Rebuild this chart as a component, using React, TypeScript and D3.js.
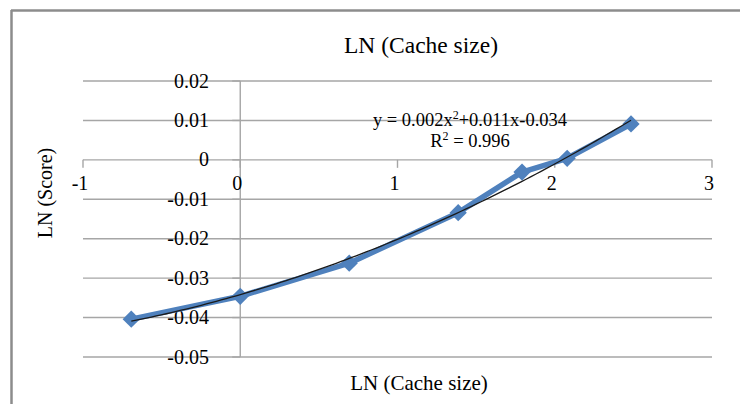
import React from "react";
import * as d3 from "d3";

const xValues = [-0.693, 0, 0.693, 1.386, 1.792, 2.079, 2.485];
const yValues = [-0.0404, -0.0346, -0.0262, -0.0134, -0.0031, 0.0004, 0.0091];
const xTicks = [-1, 0, 1, 2, 3];
const yTicks = [0.02, 0.01, 0, -0.01, -0.02, -0.03, -0.04, -0.05];
const yTickLabels = ["0.02", "0.01", "0", "-0.01", "-0.02", "-0.03", "-0.04", "-0.05"];
const titleText = "LN (Cache size)";
const xTitle = "LN (Cache size)";
const yTitle = "LN (Score)";

function quadFit(xs: number[], ys: number[]) {
  const n = xs.length;
  const s = [0, 0, 0, 0, 0];
  const t = [0, 0, 0];
  for (let i = 0; i < n; i++) {
    const x = xs[i], y = ys[i];
    for (let k = 0; k < 5; k++) s[k] += Math.pow(x, k);
    for (let k = 0; k < 3; k++) t[k] += y * Math.pow(x, k);
  }
  const M = [
    [s[0], s[1], s[2], t[0]],
    [s[1], s[2], s[3], t[1]],
    [s[2], s[3], s[4], t[2]],
  ];
  for (let i = 0; i < 3; i++) {
    const p = M[i][i];
    for (let j = i; j < 4; j++) M[i][j] /= p;
    for (let r = 0; r < 3; r++) {
      if (r === i) continue;
      const f = M[r][i];
      for (let j = i; j < 4; j++) M[r][j] -= f * M[i][j];
    }
  }
  return { c: M[0][3], b: M[1][3], a: M[2][3] };
}

export default function App() {
  const W = 740, H = 404;
  const x = d3.scaleLinear().domain([-1, 3]).range([83, 712]);
  const y = d3.scaleLinear().domain([-0.05, 0.02]).range([357, 81]);
  const font = "'Liberation Serif', 'Times New Roman', serif";
  const grid = "#a6a6a6";
  const blue = "#4f81bd";

  const pts = xValues.map((v, i) => [v, yValues[i]] as [number, number]);
  const line = d3.line<[number, number]>().x(d => x(d[0])).y(d => y(d[1]));

  const fit = quadFit(xValues, yValues);
  const xMin = d3.min(xValues)!, xMax = d3.max(xValues)!;
  const trendPts: [number, number][] = d3.range(0, 101).map(i => {
    const xv = xMin + (xMax - xMin) * i / 100;
    return [xv, fit.a * xv * xv + fit.b * xv + fit.c];
  });

  const diamond = d3.symbol().type(d3.symbolDiamond2).size(190)();

  return (
    <svg width={W} height={H} style={{ position: "absolute", left: 0, top: 0, display: "block", background: "#fff" }}>
      <rect x={0} y={0} width={W} height={H} fill="#fff" />
      <line x1={11} x2={W} y1={10.5} y2={10.5} stroke="#8c8c8c" strokeWidth={2.5} />
      <line x1={11.5} x2={11.5} y1={10} y2={H} stroke="#8c8c8c" strokeWidth={2.5} />

      {yTicks.map((t, i) => (
        <line key={"g" + i} x1={x(-1)} x2={x(3)} y1={y(t)} y2={y(t)} stroke={grid} strokeWidth={1.4} />
      ))}
      <line x1={x(0)} x2={x(0)} y1={y(0.02)} y2={y(-0.05)} stroke={grid} strokeWidth={1.4} />
      {yTicks.map((t, i) => (
        <line key={"yt" + i} x1={x(0) - 8} x2={x(0)} y1={y(t)} y2={y(t)} stroke={grid} strokeWidth={1.4} />
      ))}
      {xTicks.map((t, i) => (
        <line key={"xt" + i} x1={x(t)} x2={x(t)} y1={y(0)} y2={y(0) + 8} stroke={grid} strokeWidth={1.4} />
      ))}

      {yTicks.map((t, i) => (
        <text key={"yl" + i} x={209} y={y(t) + 6.5} textAnchor="end" fontFamily={font} fontSize={20} fill="#000">
          {yTickLabels[i]}
        </text>
      ))}
      {xTicks.map((t, i) => (
        <text key={"xl" + i} x={x(t) - 3} y={190} textAnchor="middle" fontFamily={font} fontSize={20} fill="#000">
          {String(t)}
        </text>
      ))}

      <path d={line(pts) || ""} fill="none" stroke={blue} strokeWidth={5.5} strokeLinejoin="round" />
      {pts.map((p, i) => (
        <path key={"m" + i} d={diamond || ""} transform={`translate(${x(p[0])},${y(p[1])})`} fill={blue} />
      ))}
      <path d={line(trendPts) || ""} fill="none" stroke="#1a1a1a" strokeWidth={1.3} />

      <text x={470} y={126} textAnchor="middle" fontFamily={font} fontSize={18.5} fill="#000">
        y = 0.002x<tspan fontSize={12} dy={-7}>2</tspan><tspan dy={7}>+0.011x-0.034</tspan>
      </text>
      <text x={470} y={147} textAnchor="middle" fontFamily={font} fontSize={18.5} fill="#000">
        R<tspan fontSize={12} dy={-7}>2</tspan><tspan dy={7}> = 0.996</tspan>
      </text>

      <text x={421} y={53} textAnchor="middle" fontFamily={font} fontSize={23.5} fill="#000">{titleText}</text>
      <text x={419} y={390} textAnchor="middle" fontFamily={font} fontSize={21} fill="#000">{xTitle}</text>
      <text transform={`translate(52,193) rotate(-90)`} textAnchor="middle" fontFamily={font} fontSize={20} fill="#000">{yTitle}</text>
    </svg>
  );
}
